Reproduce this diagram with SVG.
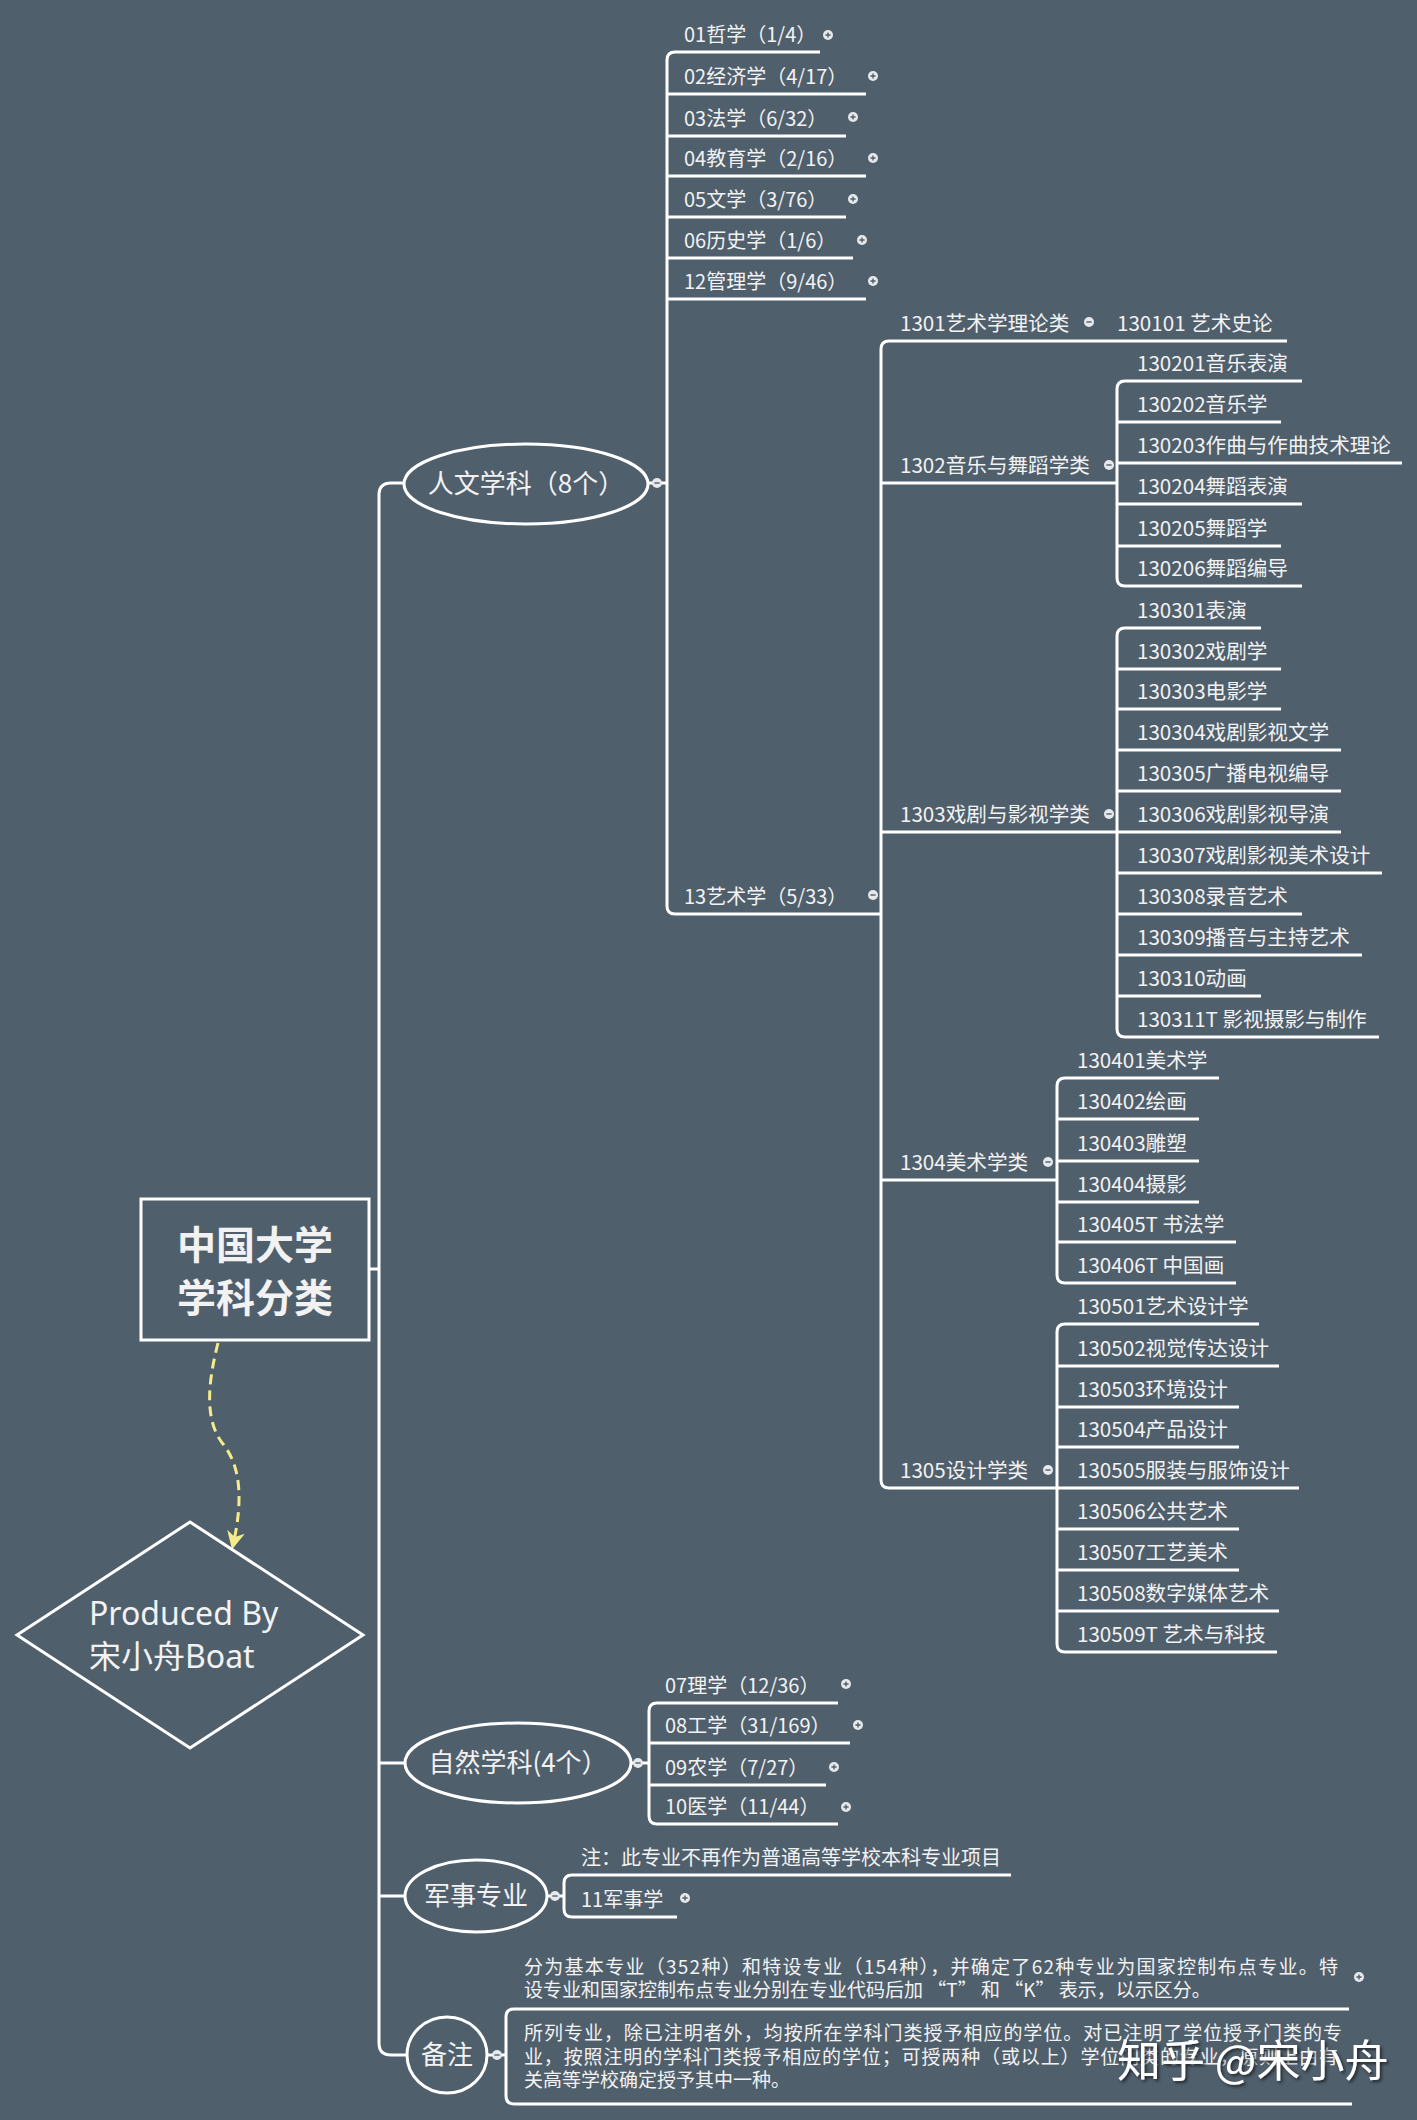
<svg xmlns="http://www.w3.org/2000/svg" xmlns:xlink="http://www.w3.org/1999/xlink" width="1417" height="2120" viewBox="0 0 1417 2120">
<defs>
<style>
.bg{fill:#505f6c}
.ln{fill:none;stroke:#ffffff;stroke-width:3;stroke-linecap:butt;stroke-linejoin:round}
.t{font-family:"Noto Sans CJK SC","Noto Sans",sans-serif;font-size:20px;fill:#f2f2f2}
.t2{font-family:"Noto Sans CJK SC","Noto Sans",sans-serif;font-size:20.6px;fill:#f2f2f2}
.big{font-family:"Noto Sans CJK SC","Noto Sans",sans-serif;font-size:26px;fill:#f2f2f2;text-anchor:middle}
.title{font-family:"Noto Sans CJK SC",sans-serif;font-size:39px;font-weight:bold;fill:#f2f2f2;text-anchor:middle}
.note{font-family:"Noto Sans CJK SC","Noto Sans",sans-serif;font-size:19px;fill:#f2f2f2}
.shape{fill:none;stroke:#ffffff;stroke-width:3}
.prod{font-family:"Noto Sans","Noto Sans CJK SC",sans-serif;font-size:32px;fill:#f2f2f2}
.wm{font-family:"Noto Sans CJK SC",sans-serif;font-size:44px;fill:#ffffff}
.dash{fill:none;stroke:#f4ec8a;stroke-width:3;stroke-dasharray:10 6}
</style>
<g id="fp"><circle r="5" fill="#e6e9ec"/><path d="M-2.6 0H2.6M0 -2.6V2.6" stroke="#505f6c" stroke-width="1.4"/></g>
<g id="fm"><circle r="5" fill="#e6e9ec"/><path d="M-2.6 0H2.6" stroke="#505f6c" stroke-width="1.4"/></g>
<marker id="ah" viewBox="0 0 12 12" refX="9" refY="6" markerWidth="6" markerHeight="6" orient="auto" markerUnits="strokeWidth">
<path d="M0 0L12 6L0 12L3.5 6Z" fill="#f4ec8a"/>
</marker>
<filter id="sh" x="-10%" y="-30%" width="130%" height="160%">
<feDropShadow dx="2" dy="2" stdDeviation="1.5" flood-color="#1e2328" flood-opacity="0.9"/>
</filter>
</defs>
<rect class="bg" x="0" y="0" width="1417" height="2120"/>

<g id="connectors">
<path class="ln" d="M403 483H391Q379 483 379 495V2043Q379 2055 391 2055H406"/>
<path class="ln" d="M369 1269H379M379 1763H405M379 1896H405"/>
<path class="ln" d="M648 483H667"/>
<path class="ln" d="M820 52H675Q667 52 667 60V906Q667 914 675 914H881"/>
<path class="ln" d="M667 94H866M667 136H846M667 176H866M667 217H846M667 258H853M667 299H866"/>
<path class="ln" d="M1287 341H889Q881 341 881 349V1480Q881 1488 889 1488H1057"/>
<path class="ln" d="M881 483H1117M881 832H1117M881 1180H1057"/>
<path class="ln" d="M1302 381H1125Q1117 381 1117 389V578Q1117 586 1125 586H1302"/>
<path class="ln" d="M1117 422H1281M1117 463H1402M1117 504H1302M1117 546H1281"/>
<path class="ln" d="M1261 628H1125Q1117 628 1117 636V1029Q1117 1037 1125 1037H1379"/>
<path class="ln" d="M1117 669H1281M1117 709H1281M1117 750H1341M1117 791H1341M1117 832H1341M1117 873H1382M1117 914H1302M1117 955H1362M1117 996H1261"/>
<path class="ln" d="M1219 1078H1065Q1057 1078 1057 1086V1275Q1057 1283 1065 1283H1236"/>
<path class="ln" d="M1057 1119H1199M1057 1161H1199M1057 1202H1199M1057 1242H1236"/>
<path class="ln" d="M1259 1324H1065Q1057 1324 1057 1332V1644Q1057 1652 1065 1652H1277"/>
<path class="ln" d="M1057 1366H1279M1057 1407H1239M1057 1447H1239M1057 1488H1299M1057 1529H1239M1057 1570H1239M1057 1611H1279"/>
<path class="ln" d="M631 1763H649"/>
<path class="ln" d="M838 1703H657Q649 1703 649 1711V1816Q649 1824 657 1824H838"/>
<path class="ln" d="M649 1743H850M649 1785H826"/>
<path class="ln" d="M547 1896H564"/>
<path class="ln" d="M1011 1875H572Q564 1875 564 1883V1909Q564 1917 572 1917H677"/>
<path class="ln" d="M487 2055H506"/>
<path class="ln" d="M1349 2009H514Q506 2009 506 2017V2096Q506 2104 514 2104H1352"/>
<path class="dash" d="M218 1343C208 1382 204 1420 223 1444C244 1470 241 1510 233 1545" marker-end="url(#ah)"/>
</g>

<g id="central">
<rect class="shape" x="141" y="1199" width="228" height="141"/>
<text class="title" x="255" y="1259">中国大学</text>
<text class="title" x="255" y="1312">学科分类</text>
</g>

<g id="produced">
<polygon class="shape" points="190,1522 363,1635 190,1748 17,1635"/>
<text class="prod" x="89" y="1625">Produced By</text>
<text class="prod" x="89" y="1668">宋小舟Boat</text>
</g>

<g id="renwen">
<ellipse class="shape" cx="526" cy="484" rx="122" ry="40"/>
<text class="big" x="526" y="493">人文学科（8个）</text>
<use href="#fm" x="657" y="483"/>
</g>
<g id="n01"><text class="t" x="684" y="42">01哲学（1/4）</text><use href="#fp" x="828" y="35"/></g>
<g id="n02"><text class="t" x="684" y="84">02经济学（4/17）</text><use href="#fp" x="873" y="76"/></g>
<g id="n03"><text class="t" x="684" y="126">03法学（6/32）</text><use href="#fp" x="853" y="117"/></g>
<g id="n04"><text class="t" x="684" y="166">04教育学（2/16）</text><use href="#fp" x="873" y="158"/></g>
<g id="n05"><text class="t" x="684" y="207">05文学（3/76）</text><use href="#fp" x="853" y="199"/></g>
<g id="n06"><text class="t" x="684" y="248">06历史学（1/6）</text><use href="#fp" x="862" y="240"/></g>
<g id="n12"><text class="t" x="684" y="289">12管理学（9/46）</text><use href="#fp" x="873" y="281"/></g>
<g id="n13"><text class="t" x="684" y="904">13艺术学（5/33）</text><use href="#fm" x="873" y="895"/></g>

<g id="n1301"><text class="t2" x="900" y="331">1301艺术学理论类</text><use href="#fm" x="1089" y="322"/></g>
<g id="n130101"><text class="t2" x="1117" y="331">130101 艺术史论</text></g>

<g id="n1302"><text class="t2" x="900" y="473">1302音乐与舞蹈学类</text><use href="#fm" x="1109" y="465"/></g>
<g id="n130201"><text class="t2" x="1137" y="371">130201音乐表演</text></g>
<g id="n130202"><text class="t2" x="1137" y="412">130202音乐学</text></g>
<g id="n130203"><text class="t2" x="1137" y="453">130203作曲与作曲技术理论</text></g>
<g id="n130204"><text class="t2" x="1137" y="494">130204舞蹈表演</text></g>
<g id="n130205"><text class="t2" x="1137" y="536">130205舞蹈学</text></g>
<g id="n130206"><text class="t2" x="1137" y="576">130206舞蹈编导</text></g>

<g id="n1303"><text class="t2" x="900" y="822">1303戏剧与影视学类</text><use href="#fm" x="1109" y="814"/></g>
<g id="n130301"><text class="t2" x="1137" y="618">130301表演</text></g>
<g id="n130302"><text class="t2" x="1137" y="659">130302戏剧学</text></g>
<g id="n130303"><text class="t2" x="1137" y="699">130303电影学</text></g>
<g id="n130304"><text class="t2" x="1137" y="740">130304戏剧影视文学</text></g>
<g id="n130305"><text class="t2" x="1137" y="781">130305广播电视编导</text></g>
<g id="n130306"><text class="t2" x="1137" y="822">130306戏剧影视导演</text></g>
<g id="n130307"><text class="t2" x="1137" y="863">130307戏剧影视美术设计</text></g>
<g id="n130308"><text class="t2" x="1137" y="904">130308录音艺术</text></g>
<g id="n130309"><text class="t2" x="1137" y="945">130309播音与主持艺术</text></g>
<g id="n130310"><text class="t2" x="1137" y="986">130310动画</text></g>
<g id="n130311"><text class="t2" x="1137" y="1027">130311T 影视摄影与制作</text></g>

<g id="n1304"><text class="t2" x="900" y="1170">1304美术学类</text><use href="#fm" x="1048" y="1162"/></g>
<g id="n130401"><text class="t2" x="1077" y="1068">130401美术学</text></g>
<g id="n130402"><text class="t2" x="1077" y="1109">130402绘画</text></g>
<g id="n130403"><text class="t2" x="1077" y="1151">130403雕塑</text></g>
<g id="n130404"><text class="t2" x="1077" y="1192">130404摄影</text></g>
<g id="n130405"><text class="t2" x="1077" y="1232">130405T 书法学</text></g>
<g id="n130406"><text class="t2" x="1077" y="1273">130406T 中国画</text></g>

<g id="n1305"><text class="t2" x="900" y="1478">1305设计学类</text><use href="#fm" x="1048" y="1470"/></g>
<g id="n130501"><text class="t2" x="1077" y="1314">130501艺术设计学</text></g>
<g id="n130502"><text class="t2" x="1077" y="1356">130502视觉传达设计</text></g>
<g id="n130503"><text class="t2" x="1077" y="1397">130503环境设计</text></g>
<g id="n130504"><text class="t2" x="1077" y="1437">130504产品设计</text></g>
<g id="n130505"><text class="t2" x="1077" y="1478">130505服装与服饰设计</text></g>
<g id="n130506"><text class="t2" x="1077" y="1519">130506公共艺术</text></g>
<g id="n130507"><text class="t2" x="1077" y="1560">130507工艺美术</text></g>
<g id="n130508"><text class="t2" x="1077" y="1601">130508数字媒体艺术</text></g>
<g id="n130509"><text class="t2" x="1077" y="1642">130509T 艺术与科技</text></g>

<g id="ziran">
<ellipse class="shape" cx="518" cy="1763" rx="113" ry="40"/>
<text class="big" x="518" y="1772">自然学科(4个）</text>
<use href="#fm" x="638" y="1763"/>
</g>
<g id="n07"><text class="t" x="665" y="1693">07理学（12/36）</text><use href="#fp" x="846" y="1684"/></g>
<g id="n08"><text class="t" x="665" y="1733">08工学（31/169）</text><use href="#fp" x="858" y="1725"/></g>
<g id="n09"><text class="t" x="665" y="1775">09农学（7/27）</text><use href="#fp" x="834" y="1767"/></g>
<g id="n10"><text class="t" x="665" y="1814">10医学（11/44）</text><use href="#fp" x="846" y="1807"/></g>

<g id="junshi">
<ellipse class="shape" cx="476" cy="1896" rx="71" ry="36"/>
<text class="big" x="476" y="1905">军事专业</text>
<use href="#fm" x="555" y="1896"/>
</g>
<g id="junshi-note"><text class="t" x="581" y="1865">注：此专业不再作为普通高等学校本科专业项目</text></g>
<g id="n11"><text class="t" x="581" y="1907">11军事学</text><use href="#fp" x="685" y="1898"/></g>

<g id="beizhu">
<ellipse class="shape" cx="447" cy="2055" rx="40" ry="38"/>
<text class="big" x="447" y="2064">备注</text>
<use href="#fm" x="497" y="2055"/>
</g>
<g id="note1">
<text class="note" x="524" y="1974" textLength="814" lengthAdjust="spacing">分为基本专业（352种）和特设专业（154种），并确定了62种专业为国家控制布点专业。特</text>
<text class="note" x="524" y="1997">设专业和国家控制布点专业分别在专业代码后加 “T” 和 “K” 表示，以示区分。</text>
<use href="#fp" x="1359" y="1977"/>
</g>
<g id="note2">
<text class="note" x="524" y="2040" textLength="818" lengthAdjust="spacing">所列专业，除已注明者外，均按所在学科门类授予相应的学位。对已注明了学位授予门类的专</text>
<text class="note" x="524" y="2064" textLength="814" lengthAdjust="spacing">业，按照注明的学科门类授予相应的学位；可授两种（或以上）学位门类的专业，原则上由有</text>
<text class="note" x="524" y="2087">关高等学校确定授予其中一种。</text>
</g>

<g id="watermark">
<text class="wm" x="1117" y="2077" filter="url(#sh)">知乎 @宋小舟</text>
</g>
</svg>
